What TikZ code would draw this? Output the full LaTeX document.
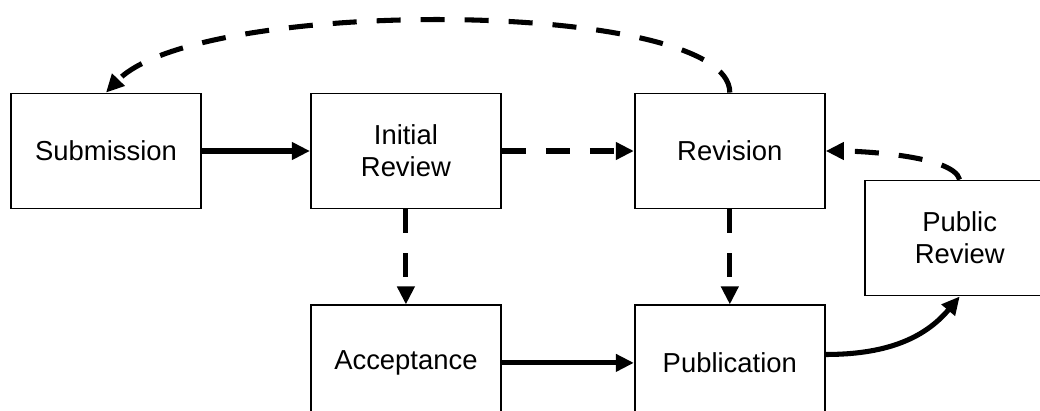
\documentclass[tikz,border=0pt]{standalone}
\usepackage{fontspec}
\setmainfont{Liberation Sans}
\usetikzlibrary{arrows.meta,positioning}

\begin{document}
\begin{tikzpicture}[x=0.025cm,y=0.025cm,>={Triangle[length=0.45cm,width=0.42cm]},
	stage/.style={draw,line width=1.3pt,minimum width=4.75cm,minimum height=2.875cm,align=center,font=\fontsize{19.5}{22.7}\selectfont},
	flow/.style={->,line width=3.6pt},
	back/.style={flow,dash pattern=on 0.6cm off 0.5cm}]

\useasboundingbox (0,0) rectangle (1040,410);
\clip (0,0) rectangle (1040,410);

\node[stage]   (sub) at (106,259)      				{Submission};
\node[stage]   (ir)[right=2.7cm of sub]      		{Initial\\Review};
\node[stage]   (rev)[right=3.3cm of ir]      		{Revision};
\node[stage]   (acc)[below=2.375cm of ir]      		{Acceptance};
\node[stage]   (pub)[below=2.375cm of rev]      	{Publication};
\node[stage]   (pr)[right=0.95cm of rev,yshift=-2.175cm]	{Public\\Review};

	\path[flow] (sub)  edge  	(ir)
				(acc)  edge  	(pub)
				(pub.5)  edge[out=0,in=-130]  	(pr.south);
	\path[back] (ir)  edge  	(rev)
				(ir)  edge  	(acc)
				(rev)  edge  	(pub)
				(pr.north)  edge[out=105,in=0,out distance=0.65cm,in distance=0.7cm]  	(rev.east)
				(rev.north)  edge[out=90,in=46,out distance=2.35cm,in distance=3.35cm]  	(sub.north);

\end{tikzpicture}
\end{document}
